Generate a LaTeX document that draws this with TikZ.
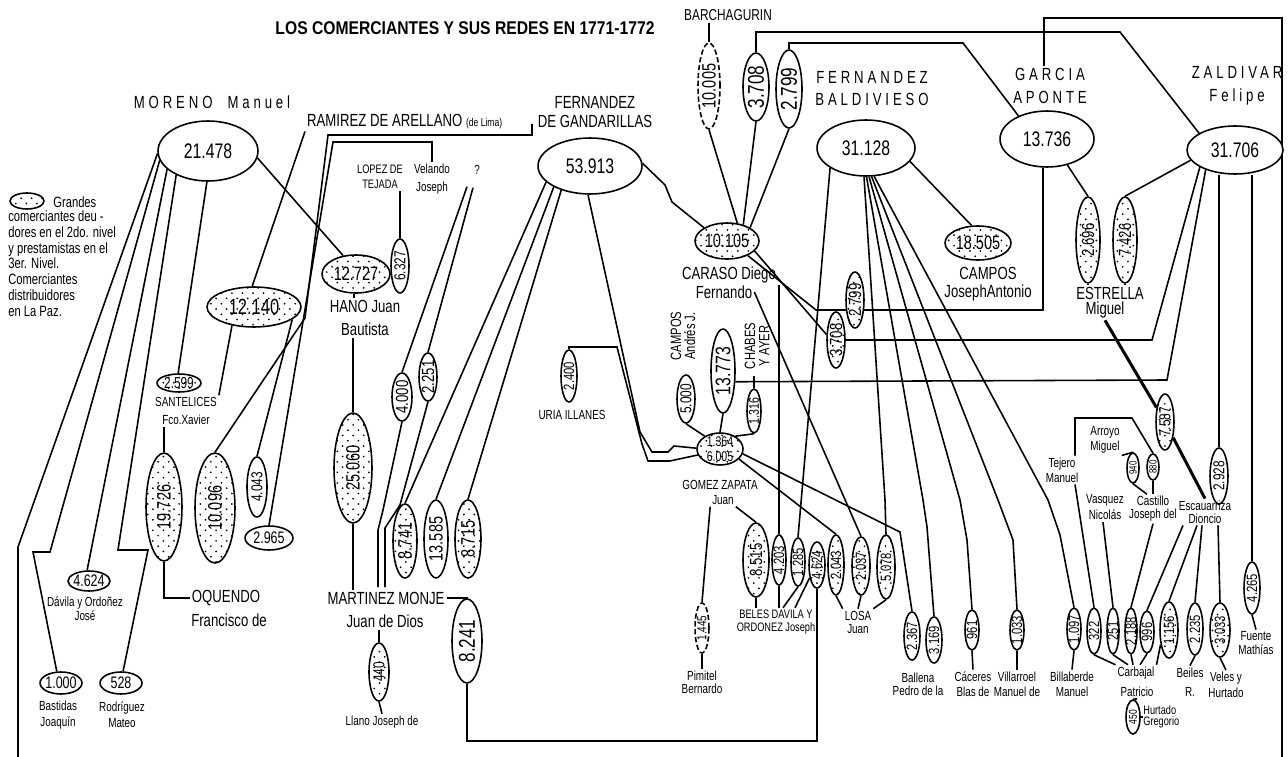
\documentclass[tikz,border=0pt]{standalone}
\usepackage{fontspec}
\setmainfont[FakeStretch=0.75]{Liberation Sans}
\newfontfamily\spcf[FakeStretch=0.75,LetterSpace=22]{Liberation Sans}
\newfontfamily\ttlf[FakeStretch=0.85]{Liberation Sans}
\usetikzlibrary{shapes.geometric,patterns,calc}
\pgfdeclarepatternformonly{sdots}{\pgfqpoint{-1pt}{-1pt}}{\pgfqpoint{4pt}{4pt}}{\pgfqpoint{6pt}{6pt}}{\pgfpathcircle{\pgfqpoint{0pt}{0pt}}{0.55pt}\pgfpathcircle{\pgfqpoint{3pt}{3pt}}{0.55pt}\pgfusepath{fill}}
\pgfdeclarelayer{bg}
\pgfsetlayers{bg,main}
\newcommand{\VEll}[7][]{\node[ell,#1,minimum width=#5*0.04cm,minimum height=#6*0.04cm] (#2) at (#3,#4) {};\node[vtxt,rotate=90] (#2t) at (#2) {#7};}
\newcommand{\HEll}[7][]{\node[ell,#1,minimum width=#5*0.04cm,minimum height=#6*0.04cm] (#2) at (#3,#4) {};\node[htxt] (#2t) at (#2) {#7};}
\begin{document}
\begin{tikzpicture}[x=0.02cm,y=-0.02cm,
  ell/.style={ellipse, draw, line width=0.9pt, fill=white, inner sep=0pt},
  dot/.style={postaction={pattern=sdots}},
  dsh/.style={dash pattern=on 3pt off 1.5pt},
  vtxt/.style={inner sep=0pt, font=\fontsize{8.5}{8.5}\selectfont},
  htxt/.style={inner sep=0pt, align=center, font=\fontsize{12}{12}\selectfont},
  lab/.style={inner sep=1pt, align=center, font=\fontsize{10}{13}\selectfont},
  slab/.style={inner sep=1pt, align=center, font=\fontsize{7.5}{9}\selectfont},
  splab/.style={inner sep=1pt, align=center, font=\spcf\fontsize{10}{12.5}\selectfont},
  cn/.style={line width=0.9pt},
  thk/.style={line width=1.7pt}]
\begin{pgfonlayer}{bg}
\fill[white] (0,0) rectangle (1288,757);
\end{pgfonlayer}
\useasboundingbox (0,0) rectangle (1288,757);

% title
\node[font=\ttlf\bfseries\fontsize{10.5}{12}\selectfont, inner sep=0pt] (ttl) at (465,28) {LOS COMERCIANTES Y SUS REDES EN 1771-1772};

% legend
\HEll[dot]{legE}{27}{201}{17}{8}{}
\node[anchor=west, inner sep=0pt, font=\fontsize{8.5}{9}\selectfont] (legA) at (53,202) {Grandes};
\node[anchor=north west, align=left, inner sep=0pt, font=\fontsize{8.5}{9.07}\selectfont] (legB) at (8,210) {comerciantes deu -\\dores en el 2do. nivel\\y prestamistas en el\\3er. Nivel.\\Comerciantes\\distribuidores\\en La Paz.};

% MORENO
\node[splab] (morL) at (212,102) {MORENO\ \ Manuel};
\HEll{mor}{208}{151}{50}{30}{21.478}

% RAMIREZ, GANDARILLAS
\node[lab, anchor=west] (ramL) at (305,122) {RAMIREZ DE ARELLANO {\fontsize{6.5}{7}\selectfont(de Lima)}};
\node[lab, font=\fontsize{10}{11.3}\selectfont] (ganL) at (595,112) {FERNANDEZ\\DE GANDARILLAS};
\coordinate (gtk) at (532,124);
\HEll{gan}{590}{166}{52}{28}{53.913}

% LOPEZ, Velando, ?
\node[slab, font=\fontsize{7}{8.5}\selectfont] (lopL) at (380,177) {LOPEZ DE\\TEJADA};
\node[slab, font=\fontsize{7.5}{10.2}\selectfont] (velL) at (432,179) {Velando\\Joseph};
\node[slab] (qL) at (477,170) {?};

% HANO / MARTINEZ
\VEll{e6327}{400}{266}{9}{27}{\fontsize{9}{9}\selectfont 6.327}
\HEll[dot]{e12727}{356}{274}{34}{19}{\fontsize{11}{11}\selectfont 12.727}
\node[lab] (hanoL) at (365,318) {HANO Juan\\Bautista};
\VEll[dot]{e25060}{353}{468}{19}{55}{\fontsize{11}{11}\selectfont 25.060}
\node[lab] (martL1) at (386,598) {MARTINEZ MONJE};
\node[lab] (martL2) at (385,621) {Juan de Dios};
\VEll[dot]{e440}{379}{672}{10}{29}{\fontsize{9}{9}\selectfont 440}
\node[slab] (llanoL) at (382,722) {Llano Joseph de};
\VEll{e8241b}{467}{641}{15}{42}{\fontsize{13}{13}\selectfont 8.241}
\VEll[dot]{e8741}{405}{541}{12}{37}{\fontsize{11}{11}\selectfont 8.741}
\VEll{e13585}{436}{539}{12}{39}{\fontsize{11}{11}\selectfont 13.585}
\VEll[dot]{e8715}{468}{539}{13}{39}{\fontsize{11}{11}\selectfont 8.715}
\VEll{e4000}{402}{397}{10}{24}{\fontsize{10}{10}\selectfont 4.000}
\VEll{e2251}{428}{377}{9}{24}{\fontsize{10}{10}\selectfont 2.251}
\VEll{e2400}{569}{376}{8}{26}{2.400}
\node[slab] (uriaL) at (572,415) {URIA ILLANES};

% left group
\HEll[dot]{e12140}{254}{307}{47}{20}{\fontsize{12.5}{12.5}\selectfont 12.140}
\HEll[dot]{e2599}{179}{383}{22}{9}{\fontsize{9}{9}\selectfont 2.599}
\node[slab, font=\fontsize{7.5}{10.2}\selectfont] (santL) at (186,411) {SANTELICES\\Fco.Xavier};
\VEll[dot]{e19726}{164}{507}{18}{54}{\fontsize{11}{11}\selectfont 19.726}
\VEll[dot]{e10096}{215}{508}{20}{55}{\fontsize{11}{11}\selectfont 10.096}
\VEll{e4043}{257}{487}{10}{30}{\fontsize{9}{9}\selectfont 4.043}
\HEll{e2965}{269}{538}{24}{12}{\fontsize{9.5}{9.5}\selectfont 2.965}
\node[lab] (oqL1) at (226,598) {OQUENDO};
\node[lab] (oqL2) at (229,620) {Francisco de};
\HEll{e4624a}{89}{581}{21}{10}{\fontsize{9.5}{9.5}\selectfont 4.624}
\node[slab, font=\fontsize{7.5}{8}\selectfont] (davL) at (85,609) {Dávila y Ordoñez\\José};
\HEll{e1000}{61}{683}{21}{11}{\fontsize{9.5}{9.5}\selectfont 1.000}
\node[slab] (bastL) at (58,715) {Bastidas\\Joaquín};
\HEll{e528}{121}{683}{21}{11}{\fontsize{9.5}{9.5}\selectfont 528}
\node[slab] (rodL) at (122,715) {Rodríguez\\Mateo};

% top centre
\node[inner sep=1pt, font=\fontsize{9}{9}\selectfont] (barL) at (728,15) {BARCHAGURIN};
\VEll[dsh]{e10005}{709}{86}{11}{43}{\fontsize{11}{11}\selectfont 10.005}
\VEll{e3708a}{756}{87}{13}{34}{\fontsize{13}{13}\selectfont 3.708}
\VEll{e2799a}{789}{89}{13}{39}{\fontsize{13}{13}\selectfont 2.799}
\node[splab] (balL) at (872,89) {FERNANDEZ\\BALDIVIESO};
\HEll{bal}{866}{148}{49}{28}{31.128}
\HEll[dot]{e10105}{727}{241}{32}{18}{\fontsize{11}{11}\selectfont 10.105}
\HEll[dot]{e18505}{978}{243}{33}{17}{\fontsize{11}{11}\selectfont 18.505}
\node[lab, font=\fontsize{10}{10.3}\selectfont] (campL) at (988,284) {CAMPOS\\JosephAntonio};

% GARCIA, ZALDIVAR
\node[splab, font=\spcf\fontsize{10}{13}\selectfont] (garL) at (1050,86) {GARCIA\\APONTE};
\HEll{gar}{1047}{139}{47}{28}{13.736}
\node[splab, font=\spcf\fontsize{10}{13}\selectfont] (zalL) at (1237,86) {ZALDIVAR\\Felipe};
\HEll{zal}{1235}{150}{48}{24}{31.706}
\VEll[dot]{e2696}{1088}{240}{12}{43}{\fontsize{10}{10}\selectfont 2.696}
\VEll[dot]{e7426}{1125}{240}{12}{43}{\fontsize{10}{10}\selectfont 7.426}
\node[lab] (estL1) at (1110,293) {ESTRELLA};
\node[lab] (estL2) at (1105,310) {Miguel};
\VEll[dot]{e7587}{1165}{422}{9}{28}{\fontsize{9}{9}\selectfont 7.587}
\VEll{e2928}{1219}{476}{9}{28}{\fontsize{9}{9}\selectfont 2.928}
\VEll{e4265}{1252}{588}{8}{26}{4.265}
\node[slab, font=\fontsize{7.5}{7.6}\selectfont] (fuenL) at (1256,643) {Fuente\\Mathías};

% CARASO / GOMEZ ZAPATA
\node[lab] (carL1) at (729,275) {CARASO Diego};
\node[lab] (carL2) at (724,292) {Fernando};
\VEll[dot]{e2799b}{855}{300}{9}{28}{\fontsize{10}{10}\selectfont 2.799}
\VEll[dot]{e3708b}{836}{340}{9}{28}{\fontsize{10}{10}\selectfont 3.708}
\VEll{e13773}{723}{371}{12}{42}{\fontsize{12}{12}\selectfont 13.773}
\VEll{e5000}{686}{399}{9}{24}{\fontsize{9}{9}\selectfont 5.000}
\VEll{e1316}{754}{411}{7}{22}{\fontsize{8}{8}\selectfont 1.316}
\node[slab, rotate=90, font=\fontsize{8.5}{8}\selectfont] (campAL) at (683,336) {CAMPOS\\Andrés J.};
\node[slab, rotate=90, font=\fontsize{8.5}{8}\selectfont] (chabL) at (757,346) {CHABES\\Y AYER};
\node[ell, dot, minimum width=46*0.02cm, minimum height=32*0.02cm] (gz) at (720,449) {};
\node[align=center, inner sep=0pt, font=\fontsize{8}{8.5}\selectfont] (gzt) at (gz) {1.364\\6.005};
\node[slab] (gzL1) at (720,485) {GOMEZ ZAPATA};
\node[slab] (gzL2) at (723,500) {Juan};
\VEll[dsh]{e1445}{702}{628}{7}{25}{\fontsize{7.5}{7.5}\selectfont 1.445}
\node[slab, font=\fontsize{7.5}{7.4}\selectfont] (pimL) at (702,682) {Pimitel\\Bernardo};
\VEll[dot]{e8515}{756}{560}{13}{37}{\fontsize{10}{10}\selectfont 8.515}
\VEll{e4203}{779}{560}{7}{25}{4.203}
\VEll{e1285}{798}{562}{7}{24}{1.285}
\VEll[dot]{e4624b}{817}{565}{8}{23}{4.624}
\VEll[dot]{e2043}{836}{565}{8}{30}{2.043}
\VEll[dot]{e2037}{861}{566}{9}{29}{2.037}
\VEll[dot]{e5078}{886}{567}{9}{32}{5.078}
\node[slab, font=\fontsize{7}{7.4}\selectfont] (belL) at (776,622) {BELES DAVILA Y\\ORDONEZ Joseph};
\node[slab, font=\fontsize{7.5}{7.4}\selectfont] (losaL) at (858,622) {LOSA\\Juan};

% bottom right
\VEll{e2367}{912}{636}{8}{24}{2.367}
\VEll{e3169}{934}{640}{8}{23}{3.169}
\node[slab, font=\fontsize{7.5}{7.4}\selectfont] (ballL) at (918,684) {Ballena\\Pedro de la};
\VEll{e961}{972}{630}{7}{20}{961}
\node[slab, font=\fontsize{7.5}{8.5}\selectfont] (cacL) at (973,684) {Cáceres\\Blas de};
\VEll{e1033}{1017}{630}{7}{20}{1.033}
\node[slab, font=\fontsize{7.5}{8.5}\selectfont] (vilL) at (1017,684) {Villarroel\\Manuel de};
\VEll{e1097}{1074}{629}{7}{21}{1.097}
\node[slab, font=\fontsize{7.5}{8.5}\selectfont] (bilL) at (1072,684) {Billaberde\\Manuel};
\VEll{e322}{1094}{631}{7}{23}{322}
\VEll{e251}{1113}{631}{6}{23}{251}
\VEll{e2188}{1131}{631}{6}{23}{2.188}
\VEll{e996}{1147}{632}{7}{21}{996}
\VEll[dot]{e1156}{1169}{630}{9}{28}{1.156}
\VEll{e2235}{1195}{629}{8}{26}{2.235}
\VEll[dot]{e3033}{1220}{630}{10}{27}{3.033}
\node[slab] (carbL1) at (1136,673) {Carbajal};
\node[slab] (carbL2) at (1137,692) {Patricio};
\node[slab, font=\fontsize{7.5}{10.8}\selectfont] (beiL) at (1190,682) {Beiles\\R.};
\node[slab] (velesL) at (1226,685) {Veles y\\Hurtado};
\VEll{e450}{1133}{717}{7}{17}{\fontsize{6.5}{6.5}\selectfont 450}
\node[anchor=west, align=left, inner sep=0pt, font=\fontsize{7}{6.3}\selectfont] (hurL) at (1143,717) {Hurtado\\Gregorio};
\node[slab, font=\fontsize{7.5}{8.5}\selectfont] (tejL) at (1062,470) {Tejero\\Manuel};
\node[slab, font=\fontsize{7.5}{8.5}\selectfont] (arrL) at (1105,440) {Arroyo\\Miguel};
\VEll{e940}{1133}{468}{6}{15}{\fontsize{6}{6}\selectfont 940}
\VEll{e880}{1153}{467}{6}{13}{\fontsize{6}{6}\selectfont 880}
\node[slab, font=\fontsize{7.5}{9.6}\selectfont] (vasL) at (1105,507) {Vasquez\\Nicolás};
\node[slab, font=\fontsize{7.5}{7.4}\selectfont] (castL) at (1153,509) {Castillo\\Joseph del};
\node[slab, font=\fontsize{7.5}{7.4}\selectfont] (escL) at (1205,512) {Escauarriza\\Dioncio};

% ---------------- connectors ----------------
\begin{pgfonlayer}{bg}
\begin{scope}[cn]
% MORENO
\draw (mor.183) -- (18,547) -- (18,757);
\draw (mor.191) -- (50,552) -- (33,552) -- (e1000.110);
\draw (mor.204) -- (e4624a.100);
\draw (mor.217) -- (118,550) -- (148,550) -- (e528.80);
\draw (mor.268) -- (e2599.95);
\draw (mor.-8) -- (e12727.125);
% RAMIREZ, GANDARILLAS, Velando
\draw (ramL.south west) -- (e12140.95);
\draw (gtk) -- (532,135) -- (328,135) -- (305,318) -- (e10096.north);
\draw (velL.north) |- (333,142) -- (e2965.north);
\draw (e12140.220) -- (santL.north east);
\draw (e19726.north |- santL.south) -- (e19726.north);
\draw (e12140.-18) -- (e4043.north);
\draw (e19726.south) |- (oqL1.west);
% HANO / MARTINEZ
\draw (e12727.265) -- (e12727.265 |- hanoL.north);
\draw (e25060.north |- hanoL.south) -- (e25060.north);
\draw (e25060.south) -- (e25060.south |- martL1.north);
\draw (martL1.east) -| (e8241b.north);
\draw (e8241b.south) -- ++(0,57) -| (e4624b.south);
\draw (e440.north |- martL2.south) -- (e440.north);
\draw (e440.south) -- (llanoL.north);
\draw (e4000.south) -- (383,510) -- (378,530) -- (378,587);
\draw (e2251.south) -- (400,505) -- (385,528) -- (385,587);
\draw ($(qL.south)+(-10,10)$) -- (e4000.north);
\draw ($(qL.south)+(-4,11)$) -- (e2251.north);
\draw (e6327.north |- lopL.south) -- (e6327.north);
% 53.913
\draw (gan.200) -- (e8741.north);
\draw (gan.210) -- (e13585.north);
\draw (gan.220) -- (e8715.north);
\draw (gan.266) -- (640,432) -- (652,452) -- (668,452) -- (674,446) -- (gz.178);
\draw (e2400.north) |- (617,347) -- (642,444) -- (648,461) -- (670,461) -- (gz.195);
\draw (gan.3) -- (665,185) -- (672,202) -- (e10105.150);
% BARCHAGURIN etc
\draw (e10005.north |- barL.south) -- (e10005.north);
\draw (e10005.south) -- (e10105.60);
\draw (e3708a.south) -- (e10105.45);
\draw (e2799a.south) -- (e10105.30);
\draw (e3708a.north) |- (1120,32) -- (zal.155);
\draw (e2799a.north) |- (963,43) -- (gar.141);
\draw ($(garL.north)+(-6,0)$) |- (1282,18) -- (1282,757);
\draw (bal.-17) -- (e18505.110);
\draw (gar.262) |- (816,310) -- (e10105.-35);
\draw (zal.206) -- (1152,340) -- (e3708b.east);
\draw (e3708b.150) -- (e10105.-20);
\draw (zal.214) -- (1167,380) -- (e13773.-41);
\draw (zal.193) -- (e7426.north);
\draw (gar.-52) -- (e2696.north);
\draw (e2696.south) -- (e2696.south |- estL1.north);
\draw (e7426.south) -- (e7426.south |- estL1.north);
\draw[thk] (estL2.south) -- (e7587);
\draw[thk] (e7587) -- (escL.north);
\draw (e2928.north |- zal.south) -- (e2928.north);
\draw (e2928.south) -- (e2928.south |- escL.north);
\draw (e4265.north |- zal.south) -- (e4265.north);
\draw (e4265.south) -- (fuenL.north);
% 31.128 fan
\draw (bal.209) -- (e1285.north);
\draw (bal.266) -- (885,500) -- (e5078.north);
\draw (bal.271) -- (923,500) -- (927,527) -- (e3169.north);
\draw (bal.276) -- (960,500) -- (967,540) -- (e961.north);
\draw (bal.281) -- (998,500) -- (1013,540) -- (e1033.north);
\draw (bal.286) -- (1048,500) -- (1060,535) -- (e1097.north);
% GOMEZ ZAPATA
\draw (gz.-28) -- (e2043.north);
\draw (gz.-12) -- (900,532) -- (e2367.north);
\draw (carL2.east) -- (e2037.north);
\draw (carL1.south east) -| (e4203.north);
\draw (e5000.south) -- (gz.140);
\draw (e13773.south) -- (gz.north);
\draw (e1316.south) -- (gz.40);
\draw (e1316.north) -- ++(0,-12);
\draw (gzL2.south west) -- (e1445.north);
\draw (gzL2.south east) -- (e8515.north);
\draw (e1445.south) -- (pimL.north);
\draw (e8515.south) -- (e8515.south |- belL.north);
\draw (e4203.south) -- (e4203.south |- belL.north);
\draw (e1285.south) -- ($(belL.north)+(7,0)$);
\draw (e4624b.240) -- ($(belL.north)+(19,0)$);
\draw (e2043.south) -- (losaL.north west);
\draw (e2037.south) -- (losaL.north);
\draw (e5078.south) -- (losaL.north east);
% bottom right
\draw (e961.south) -- (cacL.north);
\draw (e1033.south) -- (vilL.north);
\draw (e1097.south) -- (bilL.north);
\draw (e322.south) -- (carbL1.north west);
\draw (e251.south) -- ($(carbL1.north)+(-8,0)$);
\draw (e2188.south) -- ($(carbL1.north)+(-3,0)$);
\draw (e996.south) -- ($(carbL1.north)+(4,0)$);
\draw (e1156.240) -- (carbL1.north east);
\draw (e2235.south) -- (beiL.north);
\draw (e3033.south) -- (velesL.north);
\draw (carbL2.south) -- (e450.north);
\draw (e450.east) -- (hurL.west);
\draw (e880.north) -- (1132,418) -- (1075,418) -- ($(tejL.north)+(13,0)$);
\draw ($(tejL.south)+(13,0)$) -- (e322.north);
\draw (arrL.south east) -- (e940.north);
\draw (e940.south) -- ($(castL.north)+(-6,0)$);
\draw (e880.south) -- (castL.north);
\draw ($(vasL.south)+(-2,0)$) -- (e251.north);
\draw (castL.south) -- (e2188.north);
\draw ($(escL.south)+(-22,0)$) -- (e996.north);
\draw ($(escL.south)+(-8,0)$) -- (e1156.north);
\draw ($(escL.south)+(-3,0)$) -- (e2235.north);
\draw ($(escL.south)+(13,0)$) -- (e3033.north);
\end{scope}
\end{pgfonlayer}
\end{tikzpicture}
\end{document}
